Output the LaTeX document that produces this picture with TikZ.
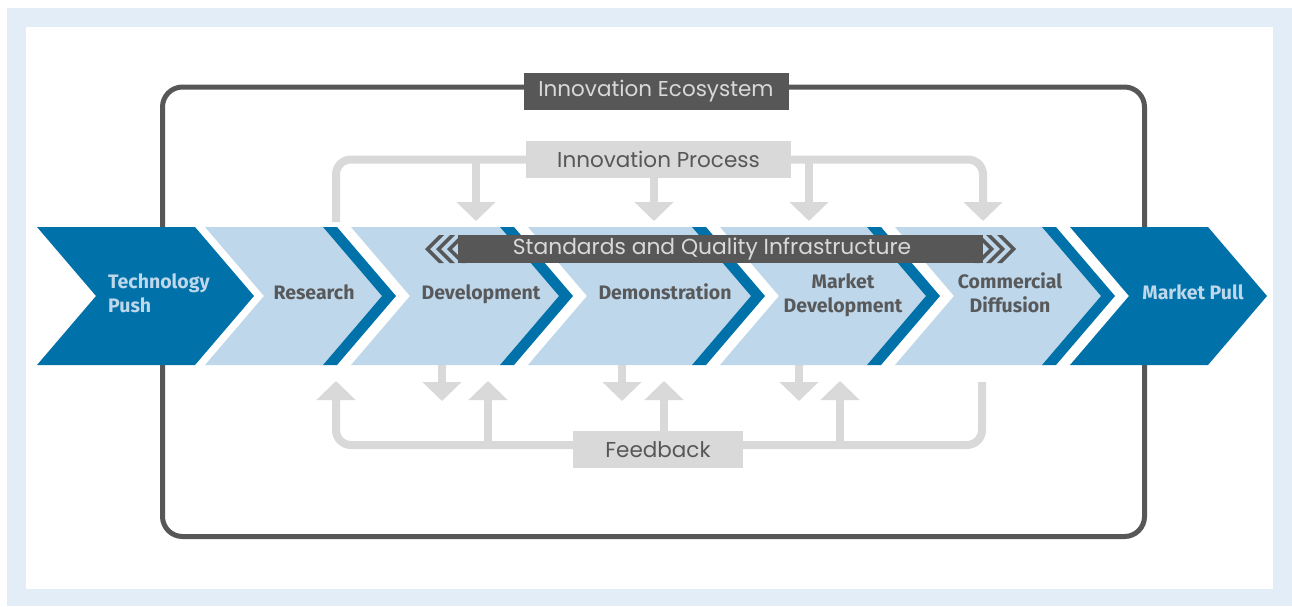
\documentclass[tikz,border=0pt]{standalone}
\usepackage{fontspec}
\setmainfont{Fira Sans}
\newfontfamily\gothic{Poppins}
\usepackage{tikz}
\usetikzlibrary{positioning,arrows.meta}
\definecolor{DarkBlue}{HTML}{0071A9}
\definecolor{PaleBlue}{HTML}{BED7EA}
\definecolor{FrameBlue}{HTML}{E3EDF7}
\definecolor{LineGray}{HTML}{D9D9D9}
\definecolor{DarkGray}{HTML}{575757}
\definecolor{TextGray}{HTML}{58595B}

\tikzset{
  stage/.style={font=\bfseries\fontsize{19.5}{24}\selectfont, text=TextGray, align=center, inner sep=0pt},
  endstage/.style={stage, text=PaleBlue, align=left},
  graybox/.style={fill=LineGray, text=DarkGray, font=\gothic\fontsize{21.5}{24}\selectfont,
    minimum height=37pt, inner sep=0pt},
  flow/.style={draw=LineGray, line width=8pt, rounded corners=15pt},
  flowarrow/.style={flow, -{Triangle[width=38pt,length=19pt]}},
}

\begin{document}
\begin{tikzpicture}[x=1pt,y=-1pt]
        \useasboundingbox (0,0) rectangle (1292,606);
        \fill[white] (0,0) rectangle (1292,606);
        \fill[FrameBlue] (7,8) rectangle (1292,606);
        \fill[white] (26,27) rectangle (1273,589);
        % The ecosystem frame
        \node[draw=DarkGray, line width=5pt, rounded corners=20pt, minimum width=982pt,
          minimum height=449.5pt] (ecosystem) at (653.5,311.75) {};
        % Innovation process on top
        \node[graybox, minimum width=265pt] (innovproc) at (658.5,159.5) {Innovation Process};
        \coordinate (inL) at (336,222);
        \coordinate (inA) at (476,221);
        \coordinate (inB) at (654,221);
        \coordinate (inC) at (809,221);
        \coordinate (inD) at (983,221);
        \draw[flow] (innovproc.west) -| (inL);
        \draw[flowarrow] (innovproc.east) -| (inD);
        \draw[flowarrow] (innovproc.west -| inA) -- (inA);
        \draw[flowarrow] (innovproc.south -| inB) -- (inB);
        \draw[flowarrow] (innovproc.east -| inC) -- (inC);
        % Feedback below
        \node[graybox, minimum width=170pt] (feedback) at (658,449.5) {Feedback};
        \coordinate (fbbar) at (658,445);
        \coordinate (upA) at (336,381);
        \coordinate (upB) at (488,381);
        \coordinate (upC) at (664,381);
        \coordinate (upD) at (840,381);
        \coordinate (fbR) at (982,382);
        \draw[flowarrow] ([yshift=4.5pt]feedback.west) -| (upA);
        \draw[flow] ([yshift=4.5pt]feedback.east) -| (fbR);
        \draw[flowarrow] (upB |- fbbar) -- (upB);
        \draw[flowarrow] (feedback.north -| upC) -- (upC);
        \draw[flowarrow] (upD |- fbbar) -- (upD);
        \foreach \x in {442,622,799}{
          \coordinate (out\x) at (\x,401);
          \draw[flowarrow] (\x,365) -- (out\x);
        }
        % The stage chevrons
        \fill[DarkBlue] (37,227) -- (195,227) -- (254,296) -- (195,365) -- (37,365) -- (96,296) -- cycle;
        \foreach \l/\r in {205/323, 351/500, 528/692, 720/867, 895/1042}{
          \fill[PaleBlue] (\l,227) -- (\r,227) -- (\r+59,296) -- (\r,365) -- (\l,365) -- (\l+59,296) -- cycle;
          \fill[DarkBlue] (\r,227) -- (\r+14,227) -- (\r+73,296) -- (\r+14,365) -- (\r,365) -- (\r+59,296) -- cycle;
        }
        \fill[DarkBlue] (1070,227) -- (1208,227) -- (1267,296) -- (1208,365) -- (1070,365) -- (1129,296) -- cycle;
        % Standards bar across the stages
        \fill[DarkGray] (458,235) rectangle (983,263);
        \foreach \k in {0,1,2}{
          \fill[DarkGray] (425+11*\k+14,235) -- (425+11*\k+19,235) -- (425+11*\k+5,249) -- (425+11*\k+19,263)
            -- (425+11*\k+14,263) -- (425+11*\k,249) -- cycle;
          \fill[DarkGray] (1016-11*\k-14,235) -- (1016-11*\k-19,235) -- (1016-11*\k-5,249) -- (1016-11*\k-19,263)
            -- (1016-11*\k-14,263) -- (1016-11*\k,249) -- cycle;
        }
        \node[font=\gothic\fontsize{21.8}{24}\selectfont, text=LineGray] (standards) at (712,249)
          {Standards and Quality Infrastructure};
        % Label the stages
        \node[endstage, anchor=west] (techpush) at (108,293) {Technology\\Push};
        \node[stage, anchor=base] (research) at (314,299) {Research};
        \node[stage, anchor=base] (development) at (481,299) {Development};
        \node[stage, anchor=base] (demonstration) at (665,299) {Demonstration};
        \node[stage] (marketdev) at (843,295) {Market\\Development};
        \node[stage] (commdiff) at (1010,293) {Commercial\\Diffusion};
        \node[endstage, anchor=base] (marketpull) at (1193,299) {Market Pull};
        % Title of the frame
        \node[graybox, fill=DarkGray, text=LineGray, minimum width=265pt] (ecotitle)
          at (656,91.5) {Innovation Ecosystem};
    \end{tikzpicture}
\end{document}
